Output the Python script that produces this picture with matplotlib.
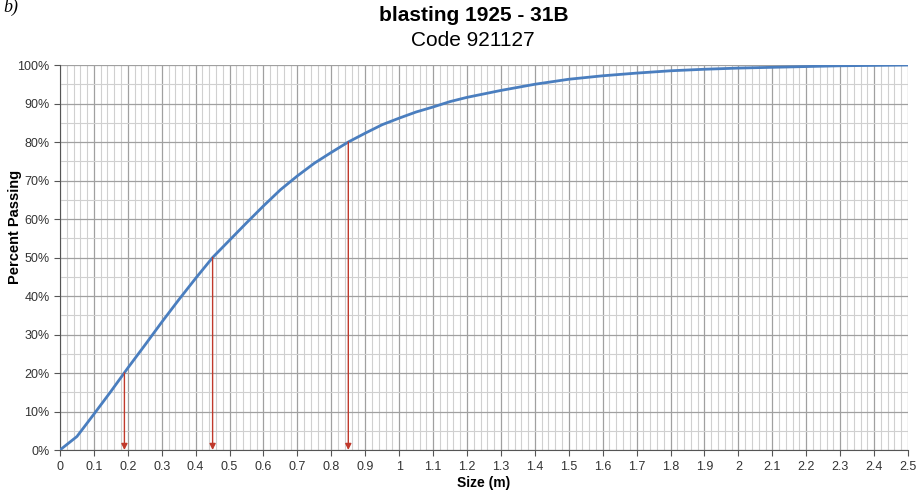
import numpy as np
import matplotlib.pyplot as plt
from matplotlib.ticker import MultipleLocator, FuncFormatter

# Size distribution curve (size in m, percent passing)
size = [0, 0.05, 0.1, 0.15, 0.2, 0.25, 0.3, 0.35, 0.4, 0.45, 0.5, 0.55, 0.6,
        0.65, 0.7, 0.75, 0.8, 0.85, 0.9, 0.95, 1.0, 1.05, 1.1, 1.15, 1.2,
        1.3, 1.4, 1.5, 1.6, 1.7, 1.8, 1.9, 2.0, 2.1, 2.2, 2.3, 2.4, 2.5]
passing = [0, 3.5, 9.3, 15.2, 21.3, 27.2, 33.2, 39.0, 44.6, 50.0, 54.5, 59.0, 63.4,
           67.6, 71.2, 74.5, 77.3, 80.0, 82.3, 84.5, 86.2, 87.8, 89.1, 90.5, 91.6,
           93.4, 95.0, 96.3, 97.2, 97.9, 98.5, 98.9, 99.2, 99.4, 99.6, 99.8, 99.9, 100]

# Characteristic sizes marked with arrows
mark_size = [0.19, 0.45, 0.85]
mark_pct = [20, 50, 80]

xtick_labels = ['0', '0.1', '0.2', '0.3', '0.4', '0.5', '0.6', '0.7', '0.8', '0.9',
                '1', '1.1', '1.2', '1.3', '1.4', '1.5', '1.6', '1.7', '1.8', '1.9',
                '2', '2.1', '2.2', '2.3', '2.4', '2.5']

plt.rcParams['font.family'] = ['Liberation Sans', 'DejaVu Sans']

fig = plt.figure(figsize=(9.21, 4.91), dpi=100)
ax = fig.add_axes([0.0651, 0.0835, 0.9208, 0.7841])

ax.plot(size, passing, color='#4a7ebf', lw=2, zorder=3)

for xs, p in zip(mark_size, mark_pct):
    ax.annotate('', xy=(xs, 0), xytext=(xs, p),
                arrowprops=dict(arrowstyle='-|>', color='#c0392b', lw=1,
                                mutation_scale=9, shrinkA=0, shrinkB=0),
                zorder=4)

ax.set_xlim(0, 2.5)
ax.set_ylim(0, 100)
ax.set_xticks(np.arange(0, 2.51, 0.1))
ax.set_xticklabels(xtick_labels)
ax.xaxis.set_minor_locator(MultipleLocator(0.02))
ax.yaxis.set_major_locator(MultipleLocator(10))
ax.yaxis.set_minor_locator(MultipleLocator(5))
ax.yaxis.set_major_formatter(FuncFormatter(lambda v, pos: '%d%%' % v))

ax.grid(which='major', color='#a0a0a0', lw=0.9)
ax.grid(which='minor', color='#d0d0d0', lw=0.8)
ax.set_axisbelow(True)

for s in ['top', 'right']:
    ax.spines[s].set_visible(False)
ax.spines['left'].set_color('#555555')
ax.spines['bottom'].set_color('#555555')
ax.tick_params(which='major', length=4, color='#555555', labelsize=9, labelcolor='#333333')
ax.tick_params(which='minor', length=0)
ax.tick_params(axis='x', pad=4)

ax.set_xlabel('Size (m)', fontsize=10, fontweight='bold', labelpad=2)
ax.set_ylabel('Percent Passing', fontsize=10.5, fontweight='bold')
ax.yaxis.set_label_coords(-0.045, 0.58)

fig.text(0.514, 0.968, 'blasting 1925 - 31B', ha='center', va='center',
         fontsize=15, fontweight='bold')
fig.text(0.513, 0.918, 'Code 921127', ha='center', va='center', fontsize=15)
fig.text(0.004, 0.985, 'b)', ha='left', va='center', fontsize=13,
         family='Liberation Serif', style='italic')

fig.savefig('out.png', dpi=100)
